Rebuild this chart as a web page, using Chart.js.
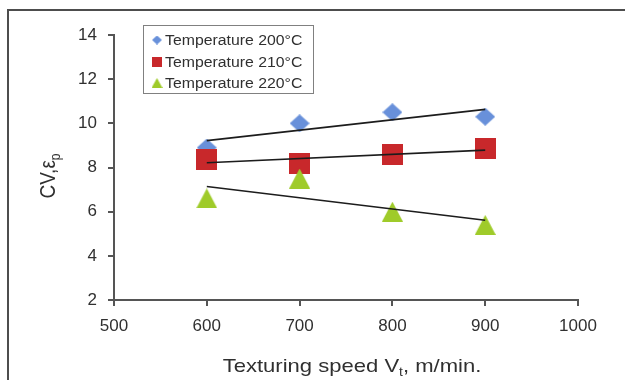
<!DOCTYPE html>
<html>
<head>
<meta charset="utf-8">
<script src="https://cdn.jsdelivr.net/npm/chart.js@4.4.1/dist/chart.umd.min.js"></script>
<style>
  html, body { margin: 0; padding: 0; background: #ffffff; }
  canvas { display: block; }
</style>
</head>
<body>
<canvas id="chart" width="625" height="380"></canvas>
<script>
// Texturing speed (m/min) and coefficient of variation at three temperatures
const speeds = [600, 700, 800, 900];
const cv200 = [8.9, 10.0, 10.5, 10.3];
const cv210 = [8.35, 8.2, 8.6, 8.85];
const cv220 = [6.6, 7.5, 6.0, 5.4];
const seriesLabels = ['Temperature 200°C', 'Temperature 210°C', 'Temperature 220°C'];
const xTickValues = [500, 600, 700, 800, 900, 1000];
const yTickValues = [2, 4, 6, 8, 10, 12, 14];
const xTitleParts = ['Texturing speed V', 't', ', m/min.'];
const yTitleParts = ['CV,ε', 'p'];

const FONT = '"Liberation Sans", Arial, Helvetica, sans-serif';
const INK = '#303030';
const AXIS = '#555555';
const COLORS = ['#6890da', '#c8282b', '#9fcb2a'];

// Marker bitmaps, centred on their bounding box
function makeMarker(shape, w, h, color) {
  const c = document.createElement('canvas');
  c.width = w; c.height = h;
  const g = c.getContext('2d');
  g.fillStyle = color;
  g.beginPath();
  if (shape === 'diamond') {
    g.moveTo(w / 2, 0); g.lineTo(w, h / 2); g.lineTo(w / 2, h); g.lineTo(0, h / 2);
  } else if (shape === 'square') {
    g.rect(0, 0, w, h);
  } else {
    g.moveTo(w / 2, 0); g.lineTo(w, h); g.lineTo(0, h);
  }
  g.closePath();
  g.fill();
  return c;
}

const bigMarkers = [
  makeMarker('diamond', 20, 18, COLORS[0]),
  makeMarker('square', 21, 21, COLORS[1]),
  makeMarker('triangle', 21, 20, COLORS[2])
];
const smallMarkers = [
  makeMarker('diamond', 10, 9, COLORS[0]),
  makeMarker('square', 10, 10, COLORS[1]),
  makeMarker('triangle', 11, 10, COLORS[2])
];

// Least-squares linear trend between the first and last speed
function fitLine(xs, ys) {
  const n = xs.length;
  const mx = xs.reduce((a, b) => a + b, 0) / n;
  const my = ys.reduce((a, b) => a + b, 0) / n;
  let sxy = 0, sxx = 0;
  for (let i = 0; i < n; i++) {
    sxy += (xs[i] - mx) * (ys[i] - my);
    sxx += (xs[i] - mx) * (xs[i] - mx);
  }
  const slope = sxy / sxx;
  const icpt = my - slope * mx;
  return [xs[0], xs[n - 1]].map(x => ({ x: x, y: icpt + slope * x }));
}

const seriesValues = [cv200, cv210, cv220];

const markerSets = seriesValues.map((vals, i) => ({
  label: seriesLabels[i],
  data: speeds.map((x, j) => ({ x: x, y: vals[j] })),
  pointStyle: bigMarkers[i],
  pointRadius: 10,
  pointHoverRadius: 10,
  showLine: false,
  order: 4 - i
}));

const trendSets = seriesValues.map(vals => ({
  label: '',
  data: fitLine(speeds, vals),
  showLine: true,
  borderColor: '#1c1c1c',
  borderWidth: 1.7,
  pointRadius: 0,
  pointHoverRadius: 0,
  order: 0
}));

// Frame, legend and axis titles
const decor = {
  id: 'decor',
  afterDraw(chart) {
    const ctx = chart.ctx;
    ctx.save();

    // outer frame (top and left edges)
    ctx.strokeStyle = '#4d4d4d';
    ctx.lineWidth = 2;
    ctx.beginPath();
    ctx.moveTo(8, 380);
    ctx.lineTo(8, 10);
    ctx.lineTo(625, 10);
    ctx.stroke();

    // legend box
    ctx.fillStyle = '#ffffff';
    ctx.fillRect(143, 25, 170, 68);
    ctx.strokeStyle = '#808080';
    ctx.lineWidth = 1;
    ctx.strokeRect(143.5, 25.5, 170, 68);
    const rows = [40, 62, 83];
    ctx.fillStyle = INK;
    ctx.font = '14px ' + FONT;
    ctx.textBaseline = 'middle';
    ctx.textAlign = 'left';
    rows.forEach((y, i) => {
      const m = smallMarkers[i];
      ctx.drawImage(m, 157 - m.width / 2, y - m.height / 2);
      ctx.save();
      ctx.translate(165, y + 1);
      ctx.scale(1.13, 1);
      ctx.fillText(seriesLabels[i], 0, 0);
      ctx.restore();
    });

    // x axis title with subscript
    ctx.textBaseline = 'alphabetic';
    const big = '19px ' + FONT, sub = '12px ' + FONT;
    ctx.font = big;
    const w0 = ctx.measureText(xTitleParts[0]).width;
    const w2 = ctx.measureText(xTitleParts[2]).width;
    ctx.font = sub;
    const w1 = ctx.measureText(xTitleParts[1]).width;
    const sx = 1.16;
    const total = (w0 + w1 + w2) * sx;
    ctx.save();
    ctx.translate(352 - total / 2, 372);
    ctx.scale(sx, 1);
    ctx.font = big;
    ctx.fillText(xTitleParts[0], 0, 0);
    ctx.font = sub;
    ctx.fillText(xTitleParts[1], w0, 4);
    ctx.font = big;
    ctx.fillText(xTitleParts[2], w0 + w1, 0);
    ctx.restore();

    // y axis title with subscript, rotated
    ctx.font = big;
    const v0 = ctx.measureText(yTitleParts[0]).width;
    ctx.font = sub;
    const v1 = ctx.measureText(yTitleParts[1]).width;
    ctx.save();
    ctx.translate(55, 176);
    ctx.rotate(-Math.PI / 2);
    ctx.scale(1, 1.16);
    const start = -(v0 + v1) / 2;
    ctx.font = big;
    ctx.fillText(yTitleParts[0], start, 0);
    ctx.font = sub;
    ctx.fillText(yTitleParts[1], start + v0, 4);
    ctx.restore();

    ctx.restore();
  }
};

new Chart(document.getElementById('chart'), {
  type: 'scatter',
  data: { datasets: markerSets.concat(trendSets) },
  options: {
    responsive: false,
    animation: false,
    events: [],
    layout: { padding: { top: 35, right: 47, left: 0, bottom: 0 } },
    plugins: { legend: { display: false }, tooltip: { enabled: false } },
    scales: {
      x: {
        type: 'linear',
        min: xTickValues[0],
        max: xTickValues[xTickValues.length - 1],
        afterBuildTicks: s => { s.ticks = xTickValues.map(v => ({ value: v })); },
        afterFit: s => { s.height = 80; },
        ticks: { color: INK, font: { family: FONT, size: 17 }, padding: 10, maxRotation: 0,
                 callback: v => String(v) },
        grid: { drawOnChartArea: false, drawTicks: true, tickLength: 6, color: AXIS, lineWidth: 2 },
        border: { color: AXIS, width: 2 }
      },
      y: {
        type: 'linear',
        min: yTickValues[0],
        max: yTickValues[yTickValues.length - 1],
        afterBuildTicks: s => { s.ticks = yTickValues.map(v => ({ value: v })); },
        afterFit: s => { s.width = 114; },
        ticks: { color: INK, font: { family: FONT, size: 17 }, padding: 11,
                 callback: v => String(v) },
        grid: { drawOnChartArea: false, drawTicks: true, tickLength: 6, color: AXIS, lineWidth: 2 },
        border: { color: AXIS, width: 2 }
      }
    }
  },
  plugins: [decor]
});
</script>
</body>
</html>
